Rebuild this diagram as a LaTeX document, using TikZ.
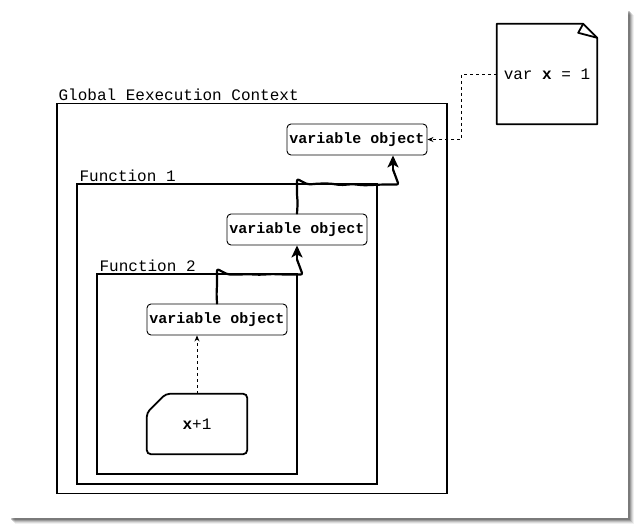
\documentclass[tikz,border=0pt]{standalone}
\usepackage{fontspec}
\setmonofont{Liberation Mono}
\usetikzlibrary{calc,arrows.meta,decorations.pathmorphing}
\tikzset{>=stealth}
\tikzset{
  ctxbox/.style={draw,line width=1.2pt,minimum width=#1,minimum height=#1,inner sep=0pt},
  ctxlabel/.style={anchor=south west,inner sep=1pt,font=\fontsize{16}{18}\ttfamily},
  varobj/.style={draw,rounded corners=4pt,line width=0.9pt,minimum width=140pt,minimum height=31pt,inner sep=1pt,font=\fontsize{15}{17}\ttfamily\bfseries},
  chainline/.style={line width=2.2pt,line cap=round,line join=round,rounded corners=2pt,decorate,
    decoration={random steps,segment length=11pt,amplitude=1pt}},
  chaintip/.style={line width=2.2pt,-{Stealth[length=12pt,width=11pt,inset=3pt]}},
  reflink/.style={dashed,-{Stealth[length=6pt,width=5pt]},line width=0.8pt},
}

\begin{document}
\begin{tikzpicture}[x=1pt,y=-1pt]
  \useasboundingbox (0,0) rectangle (637,529);
  % page and its shadow
  \foreach \d/\o in {7/0.06,6/0.09,5/0.13,4/0.18,3/0.22}
    \fill[black,opacity=\o] (8+\d,8+\d) rectangle (628+\d-1,518+\d-1);
  \fill[white] (8,8) rectangle (628,518);

  % nested contexts
  \node[ctxbox=390pt] (global) at (252,298.5) {};
  \node[ctxbox=300pt] (func1) at (227,334) {};
  \node[ctxbox=200pt] (func2) at (197,374) {};
  \node[ctxlabel] at ($(global.north west)+(1,-1)$) {Global Eexecution Context};
  \node[ctxlabel] at ($(func1.north west)+(2,-1)$) {Function 1};
  \node[ctxlabel] at ($(func2.north west)+(2,-1)$) {Function 2};

  \node[varobj] (vo1) at (357,139.5) {variable object};
  \node[varobj] (vo2) at (297,229.5) {variable object};
  \node[varobj] (vo3) at (217,319.5) {variable object};

  % code card
  \node[minimum width=100pt,minimum height=60pt,font=\fontsize{16}{18}\ttfamily] (code) at (197,424) {\textbf{x}+1};
  \draw[line width=1.8pt,rounded corners=4pt] ([xshift=19pt]code.north west) -- (code.north east)
    -- (code.south east) -- (code.south west) -- ([yshift=-19pt]code.north west) -- cycle;

  % note
  \node[minimum width=100pt,minimum height=100pt,font=\fontsize{16}{18}\ttfamily] (note) at (547,74) {var \textbf{x} = 1};
  \draw[line width=1.8pt,line join=round] (note.north west) -- ($(note.north east)+(-14,0)$)
    -- ($(note.north east)+(0,14)$) -- (note.south east) -- (note.south west) -- cycle;
  \draw[line width=1.8pt,line join=round] ($(note.north east)+(-14,0)$) -- ++(-5,9) -- ($(note.north east)+(0,14)$);

  \draw[reflink] (note.west) -- ++(-35,0) |- (vo1.east);
  \draw[reflink] (code.north) -- (code.north |- vo3.south);

  % scope chain
  \coordinate (k1) at ($(vo3.north)+(0,-29)$);
  \coordinate (k2) at ($(vo2.north)+(0,-29)$);
  \coordinate (t2) at ([xshift=36pt]vo1.south);
  \coordinate (e1) at ($(vo2.south)+(0,14)$);
  \coordinate (e2) at ($(t2)+(0,14)$);
  \draw[chainline] (vo3.north) -- ($(k1)+(0,9)$) .. controls (k1) .. ($(k1)+(9,0)$)
    -- ($(k1 -| e1)+(-9,0)$) .. controls (k1 -| e1) .. ($(k1 -| e1)+(0,-9)$) -- (e1);
  \draw[chaintip] (e1) -- (vo2.south);
  \draw[chainline] (vo2.north) -- ($(k2)+(0,9)$) .. controls (k2) .. ($(k2)+(9,0)$)
    -- ($(k2 -| e2)+(-9,0)$) .. controls (k2 -| e2) .. ($(k2 -| e2)+(0,-9)$) -- (e2);
  \draw[chaintip] (e2) -- (t2);
\end{tikzpicture}
\end{document}
